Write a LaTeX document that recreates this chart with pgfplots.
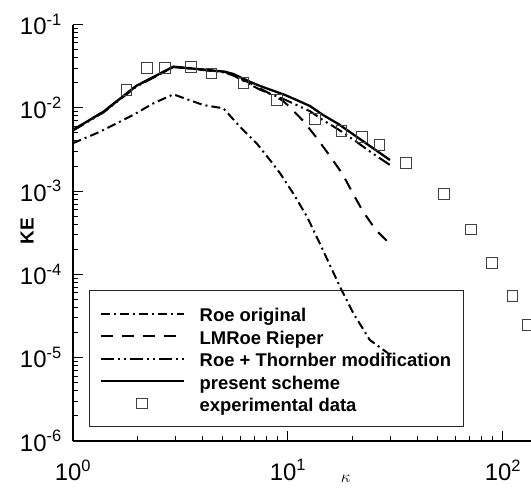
\documentclass[border=0pt]{standalone}
\usepackage{pgfplots}
\pgfplotsset{compat=1.18}
\usepackage{fontspec}
\setmainfont{Liberation Sans}
\newcommand\pw[1]{10\raisebox{9.5bp}{\fontsize{16.5}{16.5}\selectfont #1}}
\pgfplotsset{
  linelegend/.style={legend image code/.code={\draw[##1] (0bp,0bp) -- (83bp,0bp);}},
  sqlegend/.style={legend image code/.code={\draw[##1] plot coordinates {(41.5bp,0bp)};}},
}
\begin{document}
\begin{tikzpicture}
\useasboundingbox (-72.7bp,-47bp) rectangle (458.3bp,441bp);
\begin{axis}[
  at={(0,0)}, anchor=south west,
  scale only axis, width=458.3bp, height=416.5bp,
  xmode=log, ymode=log, xmin=1, xmax=135.4, ymin=1e-6, ymax=1e-1,
  axis x line=bottom, axis y line=left,
  axis line style={-, line width=2bp},
  tick align=inside, major tick length=10bp, minor tick length=5.5bp,
  every tick/.style={black, line width=1bp},
  xtick={1,10,100}, xticklabels={\pw{0},\pw{1},\pw{2}},
  minor xtick={2,3,4,5,6,7,8,9,20,30,40,50,60,70,80,90},
  ytick={1e-6,1e-5,1e-4,1e-3,1e-2,1e-1},
  yticklabels={\pw{-6},\pw{-5},\pw{-4},\pw{-3},\pw{-2},\pw{-1}},
  minor ytick={2e-6,3e-6,4e-6,5e-6,6e-6,7e-6,8e-6,9e-6,
               2e-5,3e-5,4e-5,5e-5,6e-5,7e-5,8e-5,9e-5,
               2e-4,3e-4,4e-4,5e-4,6e-4,7e-4,8e-4,9e-4,
               2e-3,3e-3,4e-3,5e-3,6e-3,7e-3,8e-3,9e-3,
               2e-2,3e-2,4e-2,5e-2,6e-2,7e-2,8e-2,9e-2},
  tick label style={font=\fontsize{24}{24}\selectfont},
  yticklabel style={xshift=-8bp},
  xticklabel style={yshift=-15bp},
  xlabel={$\kappa$},
  xlabel style={at={(axis description cs:0.596,-0.0912)}, anchor=center, font=\fontsize{19}{19}\selectfont},
  ylabel={KE},
  ylabel style={at={(axis description cs:-0.0997,0.504)}, anchor=center, font=\fontsize{19}{19}\selectfont\bfseries},
  legend style={at={(axis description cs:0.03557,0.033)}, anchor=south west,
    draw=black!85, line width=0.8bp, fill=none,
    inner xsep=10bp, inner ysep=12bp, column sep=13bp,
    nodes={inner xsep=2bp, inner ysep=3.25bp, text height=16bp, text depth=0bp},
    font=\fontsize{18.5}{18.5}\selectfont\bfseries},
  legend cell align=left,
  linelegend,
]
\addplot[black, line width=2bp, dash pattern=on 9bp off 4bp on 2bp off 4bp] coordinates {
(1,0.00375)(1.34,0.00516)(1.91,0.0082)(2.37,0.0113)(2.94,0.0145)(4.05,0.0108)(5.02,0.00986)
(6.0,0.00593)(7.17,0.00375)(8.27,0.00236)(9.21,0.00164)(10.6,0.000942)(12.3,0.000493)
(14.1,0.000236)(17.5,7.12e-5)(20.2,3.41e-5)(24.1,1.63e-5)(29.3,1.13e-5)};
\addlegendentry{Roe original}
\addplot[black, line width=2bp, dash pattern=on 12bp off 9bp] coordinates {
(1,0.0054)(1.39,0.009)(1.98,0.0184)(2.94,0.031)(3.91,0.029)(5.11,0.027)(6.68,0.0198)
(9.38,0.0124)(10.07,0.0106)(11.8,0.00698)(13.6,0.0044)(15.6,0.00271)(18.0,0.0016)
(20.0,0.000962)(22.3,0.00058)(25.7,0.000341)(29.6,0.000238)};
\addlegendentry{LMRoe Rieper}
\addplot[black, line width=2bp, dash pattern=on 13bp off 4bp on 2bp off 4bp on 2bp off 4bp] coordinates {
(1,0.0053)(1.39,0.0088)(1.98,0.018)(2.94,0.0308)(3.91,0.0287)(5.11,0.0265)(5.58,0.0245)
(7.43,0.0165)(9.72,0.0125)(11.0,0.0108)(12.7,0.0091)(14.6,0.0071)(17.2,0.0055)
(20.9,0.0039)(25.0,0.0028)(29.9,0.00206)};
\addlegendentry{Roe + Thornber modification}
\addplot[black, line width=2.3bp] coordinates {
(1,0.0054)(1.39,0.00897)(1.98,0.0184)(2.94,0.0312)(3.91,0.029)(5.11,0.0271)(5.58,0.0255)
(6.68,0.0205)(7.43,0.0183)(9.72,0.01425)(11.0,0.0124)(12.7,0.0105)(14.6,0.0082)
(17.2,0.0064)(20.9,0.0045)(25.0,0.00326)(29.9,0.00236)};
\addlegendentry{present scheme}
\addplot[only marks, mark=square, mark size=5.3bp, mark options={black!75, line width=1bp, fill=none}, sqlegend] coordinates {
(1.78,0.0164)(2.22,0.0303)(2.68,0.0303)(3.54,0.0311)(4.43,0.0259)(6.22,0.0197)(8.89,0.0124)
(13.4,0.00734)(17.8,0.00531)(22.2,0.00443)(26.7,0.00357)(35.5,0.00219)(53.3,0.000923)
(71.3,0.000347)(88.9,0.000136)(111,5.54e-5)(131.5,2.47e-5)};
\addlegendentry{experimental data}
\end{axis}
\end{tikzpicture}
\end{document}
